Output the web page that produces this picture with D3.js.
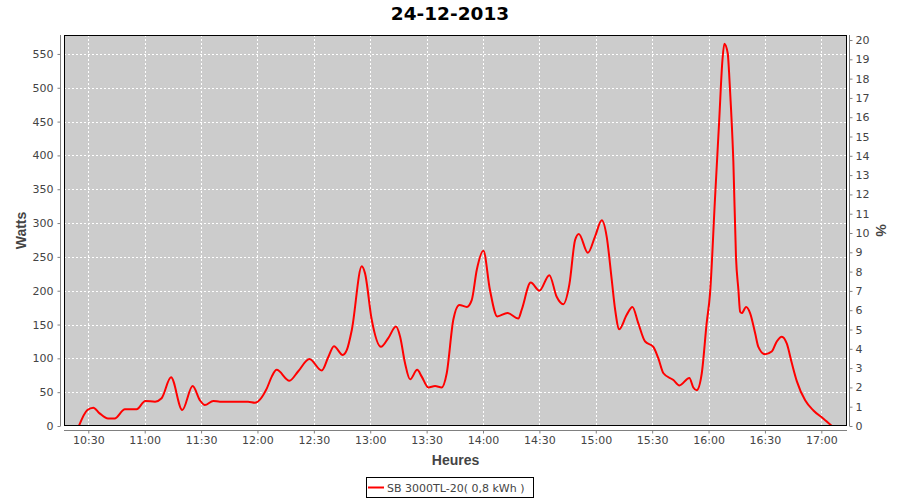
<!DOCTYPE html>
<html><head><meta charset="utf-8">
<script src="https://cdn.jsdelivr.net/npm/d3@7/dist/d3.min.js"></script>
<style>body{margin:0;background:#fff}svg{display:block}</style>
</head><body>
<svg id="c" width="900" height="500"></svg>
<script>
const titleText = "24-12-2013";
const yLabel = "Watts";
const y2Label = "%";
const xLabel = "Heures";
const seriesName = "SB 3000TL-20( 0,8 kWh )";

const times = ["10:25:00","10:29:30","10:32:40","10:36:00","10:40:30","10:44:00","10:49:30","10:55:40","11:00:20","11:05:30","11:09:00","11:14:00","11:20:00","11:25:30","11:29:24","11:32:00","11:36:30","11:40:00","11:55:00","11:58:40","12:05:00","12:07:36","12:10:12","12:17:00","12:21:42","12:27:36","12:34:12","12:37:42","12:40:42","12:45:24","12:47:30","12:50:12","12:55:30","12:57:12","13:00:48","13:05:42","13:09:36","13:13:42","13:15:54","13:18:30","13:21:12","13:25:00","13:27:24","13:30:54","13:34:30","13:38:00","13:40:42","13:44:12","13:47:24","13:51:24","13:54:00","13:56:42","14:00:12","14:03:42","14:07:36","14:13:00","14:18:48","14:20:36","14:25:24","14:30:00","14:35:18","14:39:12","14:42:42","14:46:00","14:49:00","14:51:00","14:55:48","14:59:36","15:03:12","15:05:48","15:08:30","15:10:18","15:12:30","15:16:24","15:19:30","15:22:36","15:26:12","15:30:36","15:33:18","15:36:00","15:41:18","15:44:30","15:49:48","15:51:54","15:53:42","15:56:24","15:59:00","16:00:48","16:03:24","16:05:36","16:07:24","16:08:24","16:10:12","16:10:54","16:12:00","16:13:12","16:14:36","16:15:54","16:16:48","16:17:42","16:20:00","16:22:06","16:24:48","16:26:30","16:30:06","16:33:36","16:36:18","16:39:00","16:41:36","16:44:18","16:47:00","16:51:24","16:55:48","17:01:00","17:05:36"];
const watts = [0,23.6,27,18.7,11,11,24.6,24.6,37,36,41,72,23.6,59,38,31,37,36,36,34.5,55.7,73,83,67,81,99,82,102,118,105,112,142,236,226,157,117,130,147,132,93,69,83,73,57,59,57,78,157,179,176,186,231,259,201,162,167,159,172,212,200,223,191,180,210,275,284,256,280,304,280,216,172,143,164,176,152,125,117,100,78,68,60,71,57,53,78,152,196,334,448,541,565,551,524,467,391,250,201,169,167,176,167,137,117,106,110,125,132,122,93,66,38,23,11,0];

const xTickLabels = ["10:30","11:00","11:30","12:00","12:30","13:00","13:30","14:00","14:30","15:00","15:30","16:00","16:30","17:00"];
const yTicks = [0,50,100,150,200,250,300,350,400,450,500,550];
const y2Ticks = [0,1,2,3,4,5,6,7,8,9,10,11,12,13,14,15,16,17,18,19,20];
const xDomain = ["10:17:04","17:13:40"];
const yMax = 578;
const y2Max = 20.26;

const parse = d3.timeParse("%H:%M:%S");
const parseHM = d3.timeParse("%H:%M");
const data = times.map((t,i)=>({t:parse(t), w:watts[i]}));

const L=64, R=847, T=35, B=426;
const svg = d3.select("#c");
const x = d3.scaleTime().domain(xDomain.map(parse)).range([L,R]);
const y = d3.scaleLinear().domain([0,yMax]).range([B,T]);
const y2 = d3.scaleLinear().domain([0,y2Max]).range([B,T]);
const font = "DejaVu Sans, sans-serif";

svg.append("rect").attr("x",L).attr("y",T).attr("width",R-L).attr("height",B-T).attr("fill","#cccccc");

const g = svg.append("g");
g.selectAll(".gy").data(yTicks).join("line")
  .attr("x1",L).attr("x2",R).attr("y1",d=>Math.round(y(d))+0.5).attr("y2",d=>Math.round(y(d))+0.5)
  .attr("stroke","#fff").attr("stroke-width",1).attr("stroke-dasharray","2,2");
const xTickDates = xTickLabels.map(parseHM);
g.selectAll(".gx").data(xTickDates).join("line")
  .attr("y1",T).attr("y2",B).attr("x1",d=>Math.round(x(d))+0.5).attr("x2",d=>Math.round(x(d))+0.5)
  .attr("stroke","#fff").attr("stroke-width",1).attr("stroke-dasharray","2,2");

const clip = svg.append("clipPath").attr("id","clp").append("rect").attr("x",L).attr("y",T).attr("width",R-L).attr("height",B-T);
svg.append("path").datum(data)
  .attr("clip-path","url(#clp)")
  .attr("fill","none").attr("stroke","#ff0000").attr("stroke-width",2)
  .attr("d", d3.line().x(d=>x(d.t)).y(d=>y(d.w)).curve(d3.curveMonotoneX));

svg.append("rect").attr("x",L+0.5).attr("y",T+0.5).attr("width",R-L-1).attr("height",B-T-1)
  .attr("fill","none").attr("stroke","#000").attr("stroke-width",1);

function styleAxis(a){
  a.select(".domain").attr("stroke","#808080");
  a.selectAll(".tick line").attr("stroke","#808080");
  a.selectAll(".tick text").attr("fill","#444").style("font-family",font).style("font-size","11px");
}
const ax = svg.append("g").attr("transform",`translate(0,${B+4.5})`)
  .call(d3.axisBottom(x).tickValues(xTickDates).tickFormat((d,i)=>xTickLabels[i]).tickSizeOuter(0).tickSize(3).tickPadding(3));
ax.select(".domain").attr("d",`M${L},0H${R}`);
styleAxis(ax);
const ay = svg.append("g").attr("transform",`translate(${L-3.5},0)`)
  .call(d3.axisLeft(y).tickValues(yTicks).tickSizeOuter(0).tickSize(3).tickPadding(4));
ay.select(".domain").attr("d",`M0,${T}V${B}`);
styleAxis(ay);
const ay2 = svg.append("g").attr("transform",`translate(${R+2.5},0)`)
  .call(d3.axisRight(y2).tickValues(y2Ticks).tickSizeOuter(0).tickSize(3).tickPadding(3));
ay2.select(".domain").attr("d",`M0,${T}V${B}`);
styleAxis(ay2);

svg.append("text").attr("x",450).attr("y",20).attr("text-anchor","middle")
  .style("font-family",font).style("font-weight","bold").style("font-size","18.5px").attr("fill","#000").text(titleText);
svg.append("text").attr("x",(L+R)/2).attr("y",465).attr("text-anchor","middle")
  .style("font-family","Liberation Sans, Arial, sans-serif").style("font-weight","bold").style("font-size","14px").attr("fill","#444").text(xLabel);
svg.append("text").attr("transform",`translate(26,${(T+B)/2}) rotate(-90)`).attr("text-anchor","middle")
  .style("font-family","Liberation Sans, Arial, sans-serif").style("font-weight","bold").style("font-size","14px").attr("fill","#444").text(yLabel);
svg.append("text").attr("transform",`translate(876,${(T+B)/2}) rotate(90)`).attr("text-anchor","middle")
  .style("font-family","Liberation Sans, Arial, sans-serif").style("font-weight","bold").style("font-size","14px").attr("fill","#444").text(y2Label);

const lg = svg.append("g");
lg.append("rect").attr("x",366.5).attr("y",477.5).attr("width",167).attr("height",20).attr("fill","#fff").attr("stroke","#000");
lg.append("line").attr("x1",368).attr("x2",384).attr("y1",487.5).attr("y2",487.5).attr("stroke","#ff0000").attr("stroke-width",2);
lg.append("text").attr("x",387).attr("y",492).style("font-family",font).style("font-size","11px").attr("fill","#444").text(seriesName);
</script>
</body></html>
